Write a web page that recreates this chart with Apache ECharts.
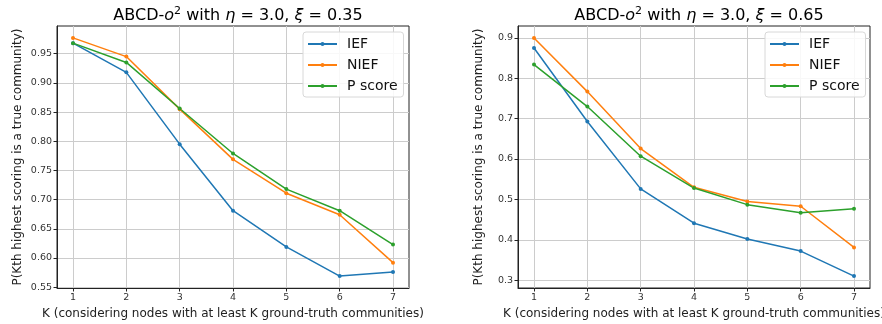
<!DOCTYPE html>
<html>
<head>
<meta charset="utf-8">
<script src="https://cdn.jsdelivr.net/npm/echarts@6/dist/echarts.min.js"></script>
<style>
html,body{margin:0;padding:0;background:#fff;}
#c{width:882px;height:324px;}
</style>
</head>
<body>
<div id="c"></div>
<script>
// ---- data ----
const K = [1, 2, 3, 4, 5, 6, 7];
const seriesNames = ['IEF', 'NIEF', 'P score'];

// left panel: eta = 3.0, xi = 0.35
const leftIEF    = [0.968, 0.918, 0.795, 0.681, 0.619, 0.569, 0.576];
const leftNIEF   = [0.977, 0.945, 0.855, 0.769, 0.711, 0.674, 0.592];
const leftPscore = [0.968, 0.935, 0.856, 0.779, 0.718, 0.681, 0.623];

// right panel: eta = 3.0, xi = 0.65
const rightIEF    = [0.875, 0.693, 0.526, 0.441, 0.402, 0.372, 0.310];
const rightNIEF   = [0.900, 0.767, 0.626, 0.530, 0.495, 0.483, 0.381];
const rightPscore = [0.834, 0.730, 0.607, 0.528, 0.487, 0.467, 0.477];

const leftYTicks  = ['0.55','0.60','0.65','0.70','0.75','0.80','0.85','0.90','0.95'];
const rightYTicks = ['0.3','0.4','0.5','0.6','0.7','0.8','0.9'];

const xName = 'K (considering nodes with at least K ground-truth communities)';
const yName = 'P(Kth highest scoring is a true community)';

// ---- chart ----
const colors = ['#1f77b4', '#ff7f0e', '#2ca02c'];
const FONT = 'DejaVu Sans';

function pairs(vals) { return K.map((k, i) => [k, vals[i]]); }
function pad(lo, hi) { const r = hi - lo; return [lo - 0.05 * r, hi + 0.05 * r]; }

const lAll = leftIEF.concat(leftNIEF, leftPscore);
const rAll = rightIEF.concat(rightNIEF, rightPscore);
const lY = pad(Math.min(...lAll), Math.max(...lAll));
const rY = pad(Math.min(...rAll), Math.max(...rAll));
const xR = pad(K[0], K[K.length - 1]);

function labelFor(labels) {
  return function (v) {
    for (const s of labels) { if (Math.abs(parseFloat(s) - v) < 1e-6) return s; }
    return '';
  };
}

function xAxis(gi) {
  return {
    type: 'value', gridIndex: gi, min: xR[0], max: xR[1],
    name: xName, nameLocation: 'middle', nameGap: 18,
    nameTextStyle: { fontFamily: FONT, fontSize: 12, color: '#222' },
    axisLine: { show: true, lineStyle: { color: '#222', width: 1 } },
    axisTick: { show: true, length: 3.5, lineStyle: { color: '#222' }, customValues: K },
    axisLabel: {
      fontFamily: FONT, fontSize: 9.5, color: '#333', margin: 5, customValues: K,
      formatter: function (v) { return String(Math.round(v)); }
    },
    splitLine: { show: true, lineStyle: { color: '#cccccc', width: 1 } }
  };
}

function yAxis(gi, range, labels) {
  const vals = labels.map(parseFloat);
  return {
    type: 'value', gridIndex: gi, min: range[0], max: range[1], splitNumber: labels.length,
    name: yName, nameLocation: 'middle', nameRotate: 90, nameGap: 33,
    nameTextStyle: { fontFamily: FONT, fontSize: 12, color: '#222' },
    axisLine: { show: true, lineStyle: { color: '#222', width: 1 } },
    axisTick: { show: true, length: 3.5, lineStyle: { color: '#222' }, customValues: vals },
    axisLabel: { fontFamily: FONT, fontSize: 9.5, color: '#333', margin: 5, customValues: vals, formatter: labelFor(labels) },
    splitLine: { show: true, lineStyle: { color: '#cccccc', width: 1 } }
  };
}

function mkSeries(gi, arrs) {
  return arrs.map((vals, i) => ({
    name: seriesNames[i], type: 'line', xAxisIndex: gi, yAxisIndex: gi,
    data: pairs(vals), symbol: 'circle', symbolSize: 4, showSymbol: true,
    lineStyle: { width: 1.5, color: colors[i] }, itemStyle: { color: colors[i] },
    animation: false
  }));
}

function titleRich(xi) {
  const base = { fontFamily: FONT, fontSize: 16, color: '#000', fontWeight: 'normal' };
  return {
    text: '{n|ABCD-}{i|o}{s|2}{n| with }{i|η}{n| = 3.0, }{i|ξ}{n| = ' + xi + '}',
    textStyle: {
      fontWeight: 'normal',
      rich: {
        n: base,
        i: Object.assign({}, base, { fontStyle: 'italic' }),
        s: Object.assign({}, base, { fontSize: 11, padding: [0, 0, 9, 0] })
      }
    }
  };
}

function legend(left) {
  return {
    data: seriesNames, orient: 'vertical', left: left, top: 32,
    itemWidth: 29, itemHeight: 5, itemGap: 7,
    padding: [5, 6, 4, 4], backgroundColor: 'rgba(255,255,255,0.85)',
    borderColor: '#d8d8d8', borderWidth: 1, borderRadius: 3,
    textStyle: { fontFamily: FONT, fontSize: 14, color: '#111', padding: [0, 0, 0, 5] },
    selectedMode: false
  };
}

const chart = echarts.init(document.getElementById('c'), null, { renderer: 'canvas' });
const lt = titleRich('0.35'), rt = titleRich('0.65');
chart.setOption({
  animation: false,
  color: colors,
  title: [
    Object.assign({ left: 233, top: 1, textAlign: 'center' }, lt),
    Object.assign({ left: 694, top: 1, textAlign: 'center' }, rt)
  ],
  grid: [
    { left: 57, right: 473, top: 26, bottom: 36, show: true, borderColor: '#222', borderWidth: 1, backgroundColor: '#fff', outerBoundsMode: 'none', containLabel: false },
    { left: 518, right: 12, top: 26, bottom: 36, show: true, borderColor: '#222', borderWidth: 1, backgroundColor: '#fff', outerBoundsMode: 'none', containLabel: false }
  ],
  xAxis: [xAxis(0), xAxis(1)],
  yAxis: [yAxis(0, lY, leftYTicks), yAxis(1, rY, rightYTicks)],
  legend: [legend(303), legend(765)],
  series: mkSeries(0, [leftIEF, leftNIEF, leftPscore]).concat(mkSeries(1, [rightIEF, rightNIEF, rightPscore]))
});
</script>
</body>
</html>
